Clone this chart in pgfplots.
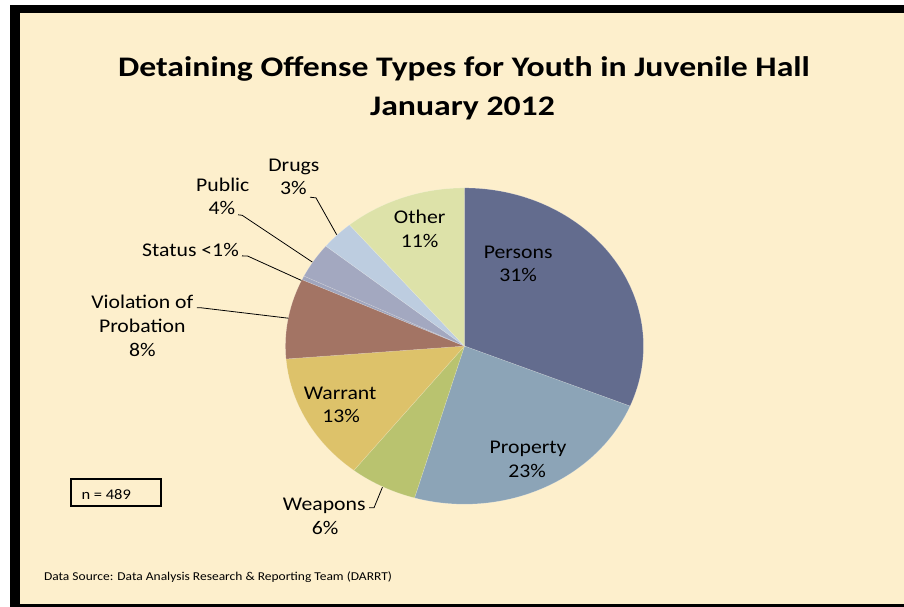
\documentclass[border=0pt]{standalone}
\usepackage{fontspec}
\setmainfont{Carlito}[FakeStretch=1.12]
\newfontfamily\titlefont{Carlito}[FakeStretch=1.19]
\usepackage{pgfplots}
\usepackage{pgfplotstable}
\pgfplotsset{compat=1.18}

\definecolor{bgc}{HTML}{FDEFCC}
\definecolor{pc0}{HTML}{636C8E}
\definecolor{pc1}{HTML}{8CA4B7}
\definecolor{pc2}{HTML}{B9C36F}
\definecolor{pc3}{HTML}{DDC26A}
\definecolor{pc4}{HTML}{A37464}
\definecolor{pc5}{HTML}{A0A5BD}
\definecolor{pc6}{HTML}{A3A8C0}
\definecolor{pc7}{HTML}{BDCDE0}
\definecolor{pc8}{HTML}{DDE2A9}

% share of each detaining offense type (percent)
\pgfplotstableread{
label value
Persons 31.2
Property 23.3
Weapons 6.1
Warrant 13.1
Violation 8.2
Status 0.4
Public 3.6
Drugs 3.0
Other 11.1
}\piedata

\begin{document}
% cumulative slice angles, clockwise from 12 o'clock
\def\cum{0}
\pgfplotsforeachungrouped \i in {0,...,8}{%
  \pgfplotstablegetelem{\i}{value}\of\piedata
  \let\v\pgfplotsretval
  \pgfmathsetmacro\aS{90-3.6*\cum}%
  \pgfmathsetmacro\cum{\cum+\v}%
  \pgfmathsetmacro\aE{90-3.6*\cum}%
  \expandafter\xdef\csname aS\i\endcsname{\aS}%
  \expandafter\xdef\csname aE\i\endcsname{\aE}%
}
\begin{tikzpicture}
\fill[white] (0pt,0pt) rectangle (904pt,610pt);
\useasboundingbox (0pt,0pt) rectangle (904pt,610pt);
\fill[black] (5pt,0pt) rectangle (904pt,605pt);
\fill[bgc] (15pt,3pt) rectangle (904pt,597pt);
\begin{axis}[at={(0pt,0pt)}, anchor=south west, width=904pt, height=610pt,
  scale only axis, xmin=0, xmax=904, ymin=0, ymax=610, hide axis, clip=false]
\pgfplotsinvokeforeach{0,...,8}{
  \addplot[fill=pc#1, draw=white, draw opacity=0.25, line width=0.5pt,
    domain/.expanded={\csname aE#1\endcsname:\csname aS#1\endcsname},
    samples=90, variable=\t]
    ({462+180*cos(\t)}, {262+159*sin(\t)}) -- (axis cs:462,262) -- cycle;
}
% leader lines
\draw[black, line width=0.8pt] (axis cs:366,99.3) -- (axis cs:371,99.3) -- (axis cs:379.5,120);
\draw[black, line width=0.8pt] (axis cs:193,300.5) -- (axis cs:197,300.5) -- (axis cs:285,290);
\draw[black, line width=0.8pt] (axis cs:238.3,352.7) -- (axis cs:244,352.5) -- (axis cs:298,328);
\draw[black, line width=0.8pt] (axis cs:234.3,394) -- (axis cs:238.5,393.5) -- (axis cs:309,346.5);
\draw[black, line width=0.8pt] (axis cs:306.7,411.7) -- (axis cs:312.7,411) -- (axis cs:333.5,374);
% labels
\begin{scope}[every node/.style={anchor=base, inner sep=0pt, font=\fontsize{19.5}{24}\selectfont}]
\node at (axis cs:417,385) {Other};
\node at (axis cs:417,361) {11\%};
\node at (axis cs:516,350) {Persons};
\node at (axis cs:516,327) {31\%};
\node at (axis cs:526,154) {Property};
\node at (axis cs:525,130) {23\%};
\node at (axis cs:337,208) {Warrant};
\node at (axis cs:338,185) {13\%};
\node at (axis cs:321,97) {Weapons};
\node at (axis cs:322,73) {6\%};
\node at (axis cs:138,300) {Violation of};
\node at (axis cs:138,276) {Probation};
\node at (axis cs:138,252) {8\%};
\node at (axis cs:186.5,352) {Status <1\%};
\node at (axis cs:219,417) {Public};
\node at (axis cs:218,394) {4\%};
\node at (axis cs:290.5,438) {Drugs};
\node at (axis cs:290,414) {3\%};
\end{scope}
% title
\node[anchor=base, inner sep=0pt, font=\titlefont\bfseries\fontsize{28.5}{34}\selectfont] at (axis cs:461.5,533) {Detaining Offense Types for Youth in Juvenile Hall};
\node[anchor=base, inner sep=0pt, font=\titlefont\bfseries\fontsize{28.5}{34}\selectfont] at (axis cs:460,494) {January 2012};
% n box and source
\draw[black, line width=2pt] (axis cs:66,128) rectangle (axis cs:157,101);
\node[anchor=base west, inner sep=0pt, font=\fontsize{14.8}{18}\selectfont] at (axis cs:76.7,108) {n = 489};
\node[anchor=base west, inner sep=0pt, font=\fontsize{12.1}{15}\selectfont] at (axis cs:39,26) {Data Source: Data Analysis Research \& Reporting Team (DARRT)};
\end{axis}
\end{tikzpicture}
\end{document}
